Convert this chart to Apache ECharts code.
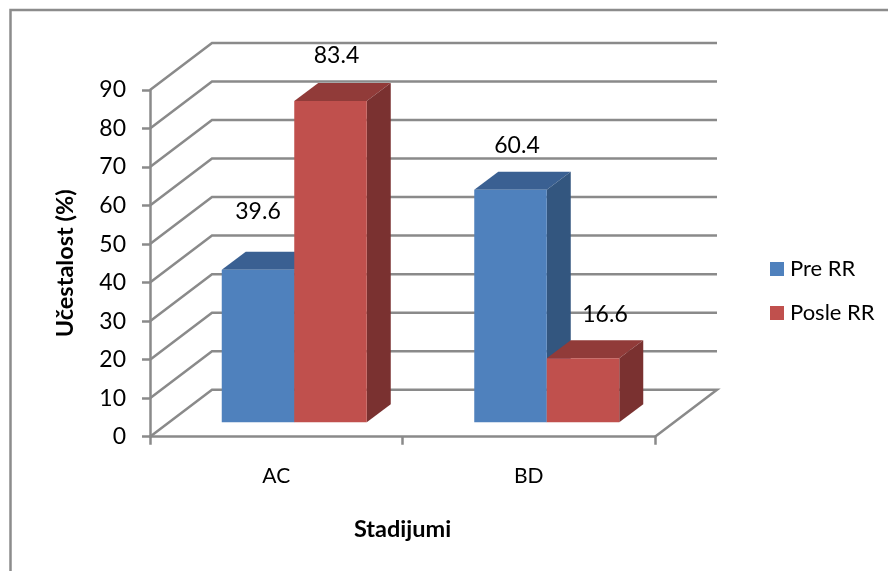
<!DOCTYPE html>
<html><head><meta charset="utf-8">
<style>html,body{margin:0;padding:0;background:#fff}#c{width:888px;height:571px}</style>
<script src="https://cdn.jsdelivr.net/npm/echarts@6/dist/echarts.min.js"></script>
</head><body><div id="c"></div>
<script>
const categories = ['AC', 'BD'];
const seriesNames = ['Pre RR', 'Posle RR'];
const preRR = [39.6, 60.4];
const posleRR = [83.4, 16.6];
const wallTicks = [0, 10, 20, 30, 40, 50, 60, 70, 80, 90];
const preLabelShift = [[0, -58], [6.5, -44]];
const posleLabelShift = [[6, -45], [22, -44]];

const FONT = 'Lato';
const GRID = '#8a8a8a';
const WALL_DX = 62, WALL_DY = -47;
const BAR_DX = 18, BAR_DY = -14.4;
const DEPTH_DX = 24, DEPTH_DY = -18;
const BAR_W = 72.5;

function wallItem(params, api) {
  const c = params.coordSys;
  const y = api.coord([0, api.value(0)])[1];
  const l = c.x, r = c.x + c.width;
  const pts = [[l, y], [l + WALL_DX, y + WALL_DY], [r + WALL_DX, y + WALL_DY]];
  if (api.value(0) === 0) pts.push([r, y]);
  return { type: 'polyline', shape: { points: pts }, style: { stroke: GRID, lineWidth: 2.5, fill: null } };
}

function barRenderer(side, front, top, dark, shifts) {
  return function (params, api) {
    const i = api.value(0), v = api.value(1);
    const p = api.coord([i, v]), b = api.coord([i, 0]);
    const xc = p[0] + BAR_DX;
    const x0 = side < 0 ? xc - BAR_W : xc, x1 = x0 + BAR_W;
    const yt = p[1] + BAR_DY, yb = b[1] + BAR_DY;
    const s = shifts[i];
    return {
      type: 'group',
      children: [
        { type: 'polygon', shape: { points: [[x0, yt], [x1, yt], [x1 + DEPTH_DX, yt + DEPTH_DY], [x0 + DEPTH_DX, yt + DEPTH_DY]] }, style: { fill: top } },
        { type: 'polygon', shape: { points: [[x1, yt], [x1 + DEPTH_DX, yt + DEPTH_DY], [x1 + DEPTH_DX, yb + DEPTH_DY], [x1, yb]] }, style: { fill: dark } },
        { type: 'rect', shape: { x: x0, y: yt, width: BAR_W, height: yb - yt }, style: { fill: front } },
        { type: 'text', style: { text: String(v), x: (x0 + x1) / 2 + s[0], y: yt + s[1], align: 'center', verticalAlign: 'middle', font: '23px ' + FONT, fill: '#000' }, z2: 50 }
      ]
    };
  };
}

const chart = echarts.init(document.getElementById('c'), null, { renderer: 'canvas' });
chart.setOption({
  animation: false,
  backgroundColor: '#fff',
  textStyle: { fontFamily: FONT },
  grid: { left: 150, top: 90, width: 505, height: 346.7 },
  legend: {
    left: 765, top: 253, orient: 'vertical', icon: 'rect',
    itemWidth: 14, itemHeight: 14, itemGap: 22, padding: 5,
    data: seriesNames,
    textStyle: { fontFamily: FONT, fontSize: 22, color: '#000', padding: [0, 0, 0, 1] }
  },
  graphic: [{
    type: 'polyline', silent: true,
    shape: { points: [[10.5, 571], [10.5, 10], [888, 10]] },
    style: { stroke: '#8c8c8c', lineWidth: 2.5, fill: null }
  }],
  xAxis: {
    type: 'category', data: categories,
    axisLine: { lineStyle: { color: GRID, width: 2.5 } },
    axisTick: { show: true, alignWithLabel: false, length: 8, lineStyle: { color: GRID, width: 2.5 } },
    axisLabel: { fontFamily: FONT, fontSize: 21, color: '#000', margin: 29 },
    name: 'Stadijumi', nameLocation: 'middle', nameGap: 81,
    nameTextStyle: { fontFamily: FONT, fontSize: 23.5, fontWeight: 'bold', color: '#000' },
    splitLine: { show: false }
  },
  yAxis: {
    type: 'value', min: 0, max: 90, interval: 10,
    axisLine: { show: true, lineStyle: { color: GRID, width: 2.5 } },
    axisTick: { show: true, length: 8, lineStyle: { color: GRID, width: 2.5 } },
    axisLabel: { fontFamily: FONT, fontSize: 23, color: '#000', margin: 24, padding: [2, 0, 0, 0] },
    name: 'Učestalost (%)', nameLocation: 'middle', nameGap: 73,
    nameTextStyle: { fontFamily: FONT, fontSize: 23.5, fontWeight: 'bold', color: '#000' },
    splitLine: { show: false }
  },
  series: [
    { type: 'custom', silent: true, z: 1, encode: { y: 0 }, data: wallTicks.map(v => [v]), renderItem: wallItem },
    {
      type: 'custom', name: seriesNames[0], z: 3, itemStyle: { color: '#4F81BD' },
      data: preRR.map((v, i) => [i, v]), encode: { x: 0, y: 1 },
      renderItem: barRenderer(-1, '#4F81BD', '#3A6092', '#33567F', preLabelShift)
    },
    {
      type: 'custom', name: seriesNames[1], z: 4, itemStyle: { color: '#C0504D' },
      data: posleRR.map((v, i) => [i, v]), encode: { x: 0, y: 1 },
      renderItem: barRenderer(1, '#C0504D', '#913B39', '#7A3130', posleLabelShift)
    }
  ]
});
</script></body></html>
